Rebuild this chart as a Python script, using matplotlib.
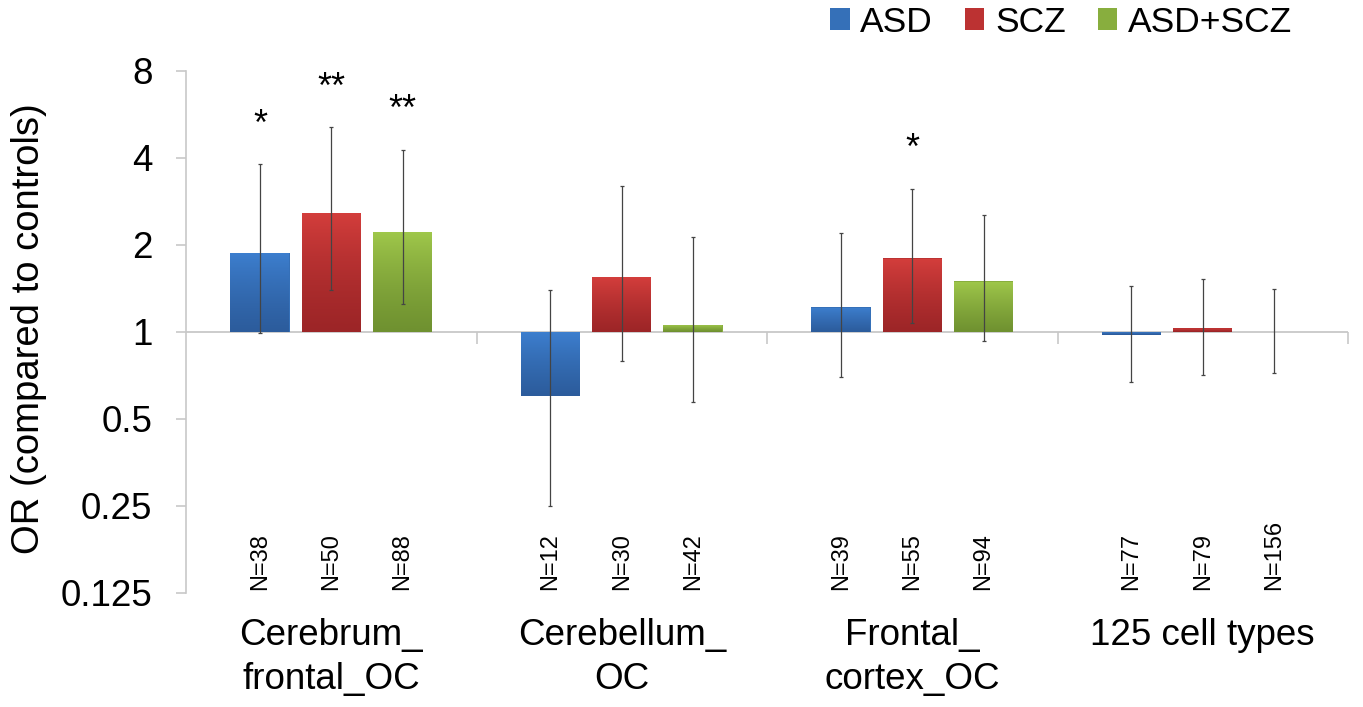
import numpy as np
import matplotlib
matplotlib.use('Agg')
import matplotlib.pyplot as plt
from matplotlib.patches import Patch
from matplotlib.colors import LinearSegmentedColormap
from matplotlib.transforms import blended_transform_factory

# ---------------- data ----------------
categories = ['Cerebrum_\nfrontal_OC', 'Cerebellum_\nOC', 'Frontal_\ncortex_OC', '125 cell types']
series = ['ASD', 'SCZ', 'ASD+SCZ']

asd_or = [1.88, 0.60, 1.22, 0.975]
scz_or = [2.58, 1.55, 1.80, 1.03]
both_or = [2.22, 1.06, 1.50, 1.00]

asd_hi = [3.80, 1.40, 2.19, 1.44]
scz_hi = [5.11, 3.20, 3.13, 1.52]
both_hi = [4.27, 2.12, 2.53, 1.41]

asd_lo = [0.99, 0.25, 0.70, 0.67]
scz_lo = [1.39, 0.79, 1.07, 0.71]
both_lo = [1.25, 0.57, 0.93, 0.72]

asd_n = [38, 12, 39, 77]
scz_n = [50, 30, 55, 79]
both_n = [88, 42, 94, 156]

asd_sig = ['*', '', '', '']
scz_sig = ['**', '', '*', '']
both_sig = ['**', '', '', '']

yticks = [0.125, 0.25, 0.5, 1, 2, 4, 8]
ytick_labels = ['0.125', '0.25', '0.5', '1', '2', '4', '8']
ylabel = 'OR (compared to controls)'

# ---------------- style ----------------
plt.rcParams['font.family'] = ['Liberation Sans', 'DejaVu Sans']
light_cols = ['#3D7FCF', '#D43E3C', '#A0C84B']
dark_cols = ['#2C5C9C', '#9C2527', '#6F9130']
mid_cols = ['#3570B8', '#BC3232', '#88AE3E']
grey = '#c8c8c8'

fig = plt.figure(figsize=(13.63, 7.07), dpi=100)
ax = fig.add_axes([186 / 1363, 1 - 593 / 707, (1348 - 186) / 1363, (593 - 70.7) / 707])
ax.set_yscale('log', base=2)

x = np.arange(len(categories))
offsets = [-0.2453, 0.0, 0.2453]
width = 0.2047

all_vals = [asd_or, scz_or, both_or]
all_lo = [asd_lo, scz_lo, both_lo]
all_hi = [asd_hi, scz_hi, both_hi]
all_n = [asd_n, scz_n, both_n]
all_sig = [asd_sig, scz_sig, both_sig]

ax.axhline(1, color=grey, lw=1.3, zorder=1)

grad = np.linspace(0, 1, 256).reshape(-1, 1)
btrans = blended_transform_factory(ax.transData, ax.transAxes)

for k in range(3):
    vals = np.array(all_vals[k])
    lo = np.array(all_lo[k])
    hi = np.array(all_hi[k])
    xs = x + offsets[k]
    bars = ax.bar(xs, vals - 1, bottom=1, width=width, color=mid_cols[k],
                  linewidth=0, zorder=2)
    cmap = LinearSegmentedColormap.from_list('g%d' % k, [dark_cols[k], light_cols[k]])
    for rect, v in zip(bars, vals):
        if abs(v - 1) < 1e-9:
            continue
        x0 = rect.get_x()
        y_a, y_b = sorted([1.0, v])
        ax.imshow(grad, extent=(x0, x0 + rect.get_width(), y_a, y_b), origin='lower',
                  aspect='auto', cmap=cmap, interpolation='bilinear', zorder=2.1)
    ax.errorbar(xs, vals, yerr=[vals - lo, hi - vals], fmt='none', ecolor='#444444',
                elinewidth=0.9, capsize=1.6, capthick=0.9, zorder=3)
    for i in range(len(categories)):
        if all_sig[k][i]:
            ax.annotate(all_sig[k][i], xy=(xs[i], hi[i]), xytext=(0, 21),
                        textcoords='offset points', ha='center', va='baseline',
                        fontsize=26, color='black')
        ax.text(xs[i], 0.006, 'N=%d' % all_n[k][i], transform=btrans, rotation=90,
                ha='center', va='bottom', fontsize=17, color='black')

# separator ticks on category axis
ax.vlines([0.5, 1.5, 2.5, 3.5], 2 ** (-12 / 87.1), 1, colors=grey, lw=1.2, clip_on=False, zorder=1)

ax.set_xlim(-0.5, 3.5)
ax.set_ylim(0.125, 8)
ax.set_yticks(yticks)
ax.set_yticklabels(ytick_labels)
ax.minorticks_off()
ax.set_xticks(x)
ax.set_xticklabels(categories, linespacing=1.32)

for s in ['top', 'right', 'bottom']:
    ax.spines[s].set_visible(False)
ax.spines['left'].set_color(grey)
ax.spines['left'].set_linewidth(1.2)
ax.tick_params(axis='y', length=7.2, width=1.2, color=grey, pad=17, labelsize=26.5,
               labelcolor='black')
ax.tick_params(axis='x', length=0, pad=18, labelsize=26.5, labelcolor='black')

fig.text(29 / 1363, 1 - 329 / 707, ylabel, rotation=90, ha='center', va='center',
         fontsize=27.5, color='black')

handles = [Patch(facecolor=c, edgecolor='none') for c in mid_cols]
fig.legend(handles, series, loc='center right', bbox_to_anchor=(1292 / 1363, 1 - 22 / 707),
           ncol=3, frameon=False, fontsize=25.5, handlelength=0.55, handleheight=0.55,
           handletextpad=0.3, columnspacing=0.9, borderpad=0, borderaxespad=0)

fig.savefig('out.png', dpi=100)
